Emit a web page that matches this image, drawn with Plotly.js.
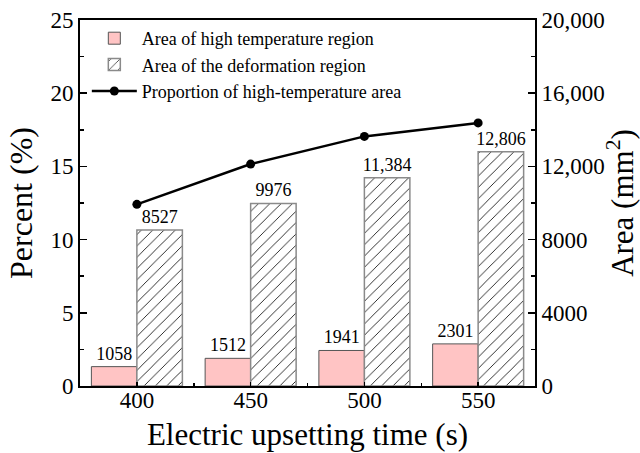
<!DOCTYPE html>
<html>
<head>
<meta charset="utf-8">
<script src="https://cdn.plot.ly/plotly-3.0.1.min.js"></script>
<style>html,body{margin:0;padding:0;background:#fff;}#chart{width:640px;height:453px;}</style>
</head>
<body>
<div id="chart"></div>
<script>
var times = [400, 450, 500, 550];
var highTempArea = [1058, 1512, 1941, 2301];
var highTempLabels = ["1058", "1512", "1941", "2301"];
var deformArea = [8527, 9976, 11384, 12806];
var deformLabels = ["8527", "9976", "11,384", "12,806"];
var proportion = [12.41, 15.16, 17.05, 17.97];
var xTickLabels = ["400", "450", "500", "550"];

var FONT = "Liberation Serif, Times New Roman, serif";

var traces = [
  {
    type: "bar", name: "Area of high temperature region",
    x: times, y: highTempArea, yaxis: "y",
    width: 20, offset: -20,
    marker: {color: "#FFC4C4", line: {color: "#555555", width: 1}},
    text: highTempLabels, textposition: "outside", cliponaxis: false,
    constraintext: "none",
    textfont: {family: FONT, size: 18, color: "#000"},
    hoverinfo: "skip"
  },
  {
    type: "bar", name: "Area of the deformation region",
    x: times, y: deformArea, yaxis: "y",
    width: 20, offset: 0,
    marker: {color: "#ffffff", line: {color: "#8a8a8a", width: 1.5},
      pattern: {shape: "/", fgcolor: "#000000", bgcolor: "#ffffff", size: 8, solidity: 0.1}},
    text: deformLabels, textposition: "outside", cliponaxis: false,
    constraintext: "none",
    textfont: {family: FONT, size: 18, color: "#000"},
    hoverinfo: "skip"
  },
  {
    type: "scatter", mode: "lines+markers", name: "Proportion of high-temperature area",
    x: times, y: proportion, yaxis: "y2",
    line: {color: "#000", width: 2.5},
    marker: {color: "#000", size: 9, symbol: "circle"},
    cliponaxis: false
  }
];

var layout = {
  width: 640, height: 453,
  margin: {l: 80, r: 105, t: 20, b: 67},
  paper_bgcolor: "#fff", plot_bgcolor: "#fff",
  font: {family: FONT, color: "#000"},
  showlegend: true,
  legend: {x: 0.015, y: 1.0, xanchor: "left", yanchor: "top",
    font: {family: FONT, size: 18}, bgcolor: "rgba(0,0,0,0)",
    tracegroupgap: 0, itemwidth: 45},
  xaxis: {
    range: [375, 575], tickvals: times, ticktext: xTickLabels,
    showline: true, linecolor: "#000", linewidth: 2, mirror: true,
    ticks: "inside", ticklen: 4, tickwidth: 1.5, tickcolor: "#000",
    minor: {tickvals: [425, 475, 525], ticks: "inside", ticklen: 3, tickwidth: 1.5, tickcolor: "#000"},
    showgrid: false, zeroline: false,
    tickfont: {family: FONT, size: 23}, ticklabelstandoff: -8,
    title: {text: "Electric upsetting time (s)", font: {family: FONT, size: 31}, standoff: 12}
  },
  yaxis: {
    side: "right", range: [0, 20000],
    tickvals: [0, 4000, 8000, 12000, 16000, 20000],
    ticktext: ["0", "4000", "8000", "12,000", "16,000", "20,000"],
    showline: true, linecolor: "#000", linewidth: 2,
    ticks: "inside", ticklen: 7, tickwidth: 1.5, tickcolor: "#000",
    minor: {tickvals: [2000, 6000, 10000, 14000, 18000], ticks: "inside", ticklen: 4, tickwidth: 1.5, tickcolor: "#000"},
    showgrid: false, zeroline: false,
    tickfont: {family: FONT, size: 23},
    title: {text: "Area (mm<sup>2</sup>)", font: {family: FONT, size: 31}, standoff: 19}
  },
  yaxis2: {
    overlaying: "y", side: "left", range: [0, 25],
    tickvals: [0, 5, 10, 15, 20, 25],
    showline: true, linecolor: "#000", linewidth: 2,
    ticks: "inside", ticklen: 7, tickwidth: 1.5, tickcolor: "#000",
    minor: {tickvals: [2.5, 7.5, 12.5, 17.5, 22.5], ticks: "inside", ticklen: 4, tickwidth: 1.5, tickcolor: "#000"},
    showgrid: false, zeroline: false,
    tickfont: {family: FONT, size: 23},
    title: {text: "Percent (%)", font: {family: FONT, size: 32}, standoff: 8}
  }
};

Plotly.newPlot("chart", traces, layout, {displayModeBar: false, staticPlot: true});
</script>
</body>
</html>
